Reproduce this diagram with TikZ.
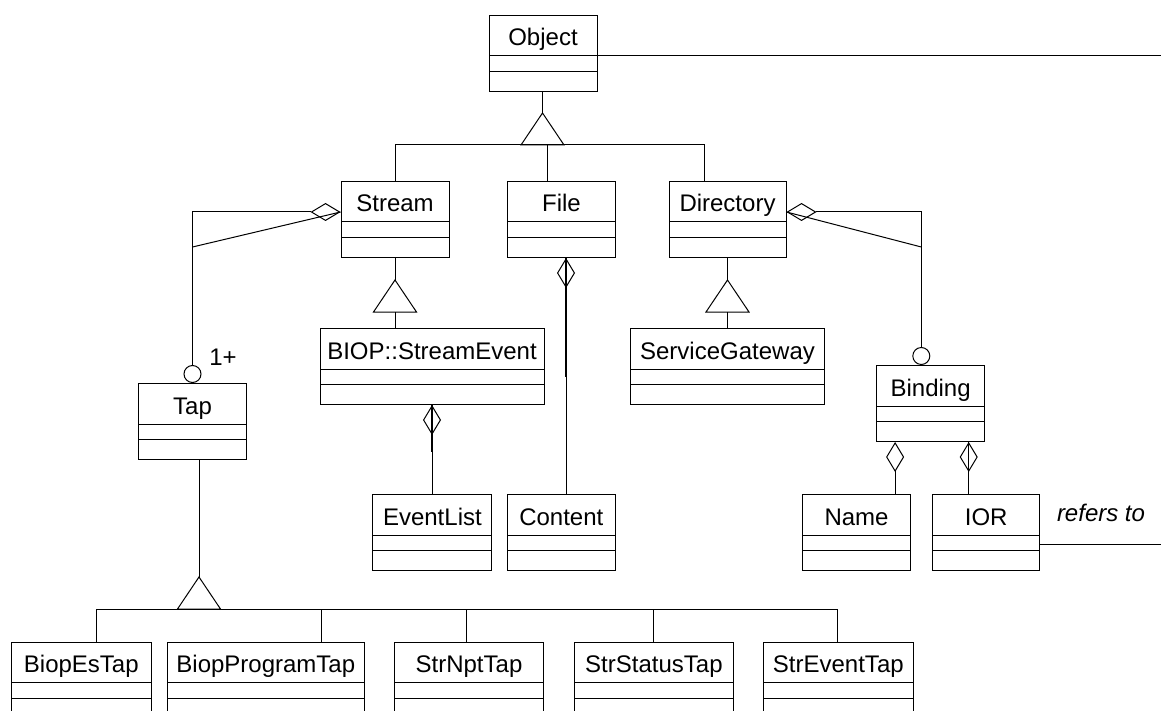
\documentclass[tikz,border=0pt]{standalone}
\usepackage{fontspec}
\setmainfont{Liberation Sans}
\usepackage{tikz}
\usetikzlibrary{shapes.multipart,arrows.meta,calc}

\newcommand{\umlcls}[1]{\rule[-4.75pt]{0pt}{19.75pt}#1\nodepart{two}\rule{0pt}{7.25pt}\nodepart{three}\rule{0pt}{9.5pt}}

\tikzset{
  umlclass/.style={draw, rectangle split, rectangle split parts=3, anchor=north, inner sep=0pt, font=\fontsize{12}{14.4}\selectfont},
  umllabel/.style={inner sep=0pt, font=\fontsize{12}{14.4}\selectfont},
  aggr/.style={{Diamond[open,length=15pt,width=9pt]}-},
  aggrcirc/.style={{Diamond[open,length=15pt,width=9pt]}-{Circle[open,length=9pt]}},
}

\begin{document}
\begin{tikzpicture}[x=0.5pt,y=0.5pt,yscale=-1,line width=0.5pt]
\useasboundingbox (0,0) rectangle (1161,711);

% Class Nodes
\node[umlclass, minimum width=54pt] (object) at (543,15) {\umlcls{Object}};
\node[umlclass, minimum width=54pt] (stream) at (395,181) {\umlcls{Stream}};
\node[umlclass, minimum width=54pt] (file) at (561.5,181) {\umlcls{File}};
\node[umlclass, minimum width=58.5pt] (directory) at (727.5,181) {\umlcls{Directory}};
\node[umlclass, minimum width=112pt] (biop) at (432,328) {\umlcls{BIOP::StreamEvent}};
\node[umlclass, minimum width=97pt] (gateway) at (727.5,328) {\umlcls{ServiceGateway}};
\node[umlclass, minimum width=54pt] (tap) at (192.5,383) {\umlcls{Tap}};
\node[umlclass, minimum width=54pt] (binding) at (930.6,365) {\umlcls{Binding}};
\node[umlclass, minimum width=59.5pt] (eventlist) at (432.4,494) {\umlcls{EventList}};
\node[umlclass, minimum width=54pt] (content) at (561.3,494) {\umlcls{Content}};
\node[umlclass, minimum width=53.75pt] (name) at (856.5,494) {\umlcls{Name}};
\node[umlclass, minimum width=53.5pt] (ior) at (986.2,494) {\umlcls{IOR}};
\node[umlclass, minimum width=70pt] (biopestap) at (81.3,641.5) {\umlcls{BiopEsTap}};
\node[umlclass, minimum width=98.5pt] (biopprogramtap) at (265.8,641.5) {\umlcls{BiopProgramTap}};
\node[umlclass, minimum width=74.5pt] (strnpttap) at (469,641.5) {\umlcls{StrNptTap}};
\node[umlclass, minimum width=79.7pt] (strstatustap) at (653.9,641.5) {\umlcls{StrStatusTap}};
\node[umlclass, minimum width=75.2pt] (streventtap) at (838.3,641.5) {\umlcls{StrEventTap}};

% Text Nodes
\node[umllabel] (tapmult) at (223,357) {1+};
\node[umllabel, font=\fontsize{12}{14.4}\selectfont\itshape] (refers) at (1101,513) {refers to};

% Object generalization
\coordinate (objapex) at ($(object.south)+(-0.5,21)$);
\coordinate (objbase) at ($(objapex)+(0,32)$);
\draw (objapex) -- ++(-21.5,32) -- ++(43,0) -- cycle;
\draw (objapex |- object.south) -- (objapex);
\foreach \n/\dx in {stream/0, file/-14.5, directory/-23.5}
  \draw ($(\n.north)+(\dx,0)$) |- (objbase);

% Object right connector
\coordinate (objend) at (1161,56);
\draw ($(object.north east)+(0,41)$) -- (objend);

% Stream generalization
\coordinate (strapex) at ($(stream.south)+(0,22)$);
\draw (strapex) -- ++(-21.5,32) -- ++(43,0) -- cycle;
\draw (stream.south) -- (strapex);
\draw ($(strapex)+(0,32)$) -- (strapex |- biop.north);

% Directory generalization
\coordinate (dirapex) at ($(directory.south)+(0,22)$);
\draw (dirapex) -- ++(-21.5,32) -- ++(43,0) -- cycle;
\draw (directory.south) -- (dirapex);
\draw ($(dirapex)+(0,32)$) -- (dirapex |- gateway.north);

% Stream aggregation of Tap
\coordinate (strw) at ($(stream.north west)+(0,31)$);
\draw[aggrcirc] (strw) -| (tap.north);
\draw (strw) -- (tap.north |- 0,247);

% Directory aggregation of Binding
\coordinate (dire) at ($(directory.north east)+(0,31)$);
\coordinate (bindtop) at ($(binding.north)+(-9.3,0)$);
\draw[aggrcirc] (dire) -| (bindtop);
\draw (dire) -- (bindtop |- 0,247);

% File -- Content
\coordinate (filebot) at ($(file.south)+(4.5,0)$);
\draw[aggr] (filebot) -- (filebot |- content.north);
\draw[line width=1pt] (filebot) -- ++(0,119);

% BIOP::StreamEvent -- EventList
\draw[aggr] (biop.south) -- (biop.south |- eventlist.north);
\draw[line width=1pt] (biop.south) -- ++(0,47);

% Binding -- Name, IOR
\coordinate (bindsw) at ($(binding.south west)+(19,0)$);
\coordinate (bindse) at ($(binding.south east)+(-16.4,0)$);
\draw[aggr] (bindsw) -- (bindsw |- name.north);
\draw[aggr] (bindse) -- (bindse |- ior.north);
\draw (bindse) -- (bindse |- ior.north);

% IOR refers to
\coordinate (refend) at (1161,544);
\draw ($(ior.north east)+(0,50)$) -- (refend);

% Tap generalization
\coordinate (tapapex) at ($(tap.south)+(6.5,117)$);
\coordinate (tapbase) at ($(tapapex)+(0,32)$);
\draw (tapapex) -- ++(-21.5,32) -- ++(43,0) -- cycle;
\draw (tapapex |- tap.south) -- (tapapex);
\foreach \n/\dx in {biopestap/15.5, biopprogramtap/55.7, strnpttap/-2.1, strstatustap/0, streventtap/-1.2}
  \draw ($(\n.north)+(\dx,0)$) |- (tapbase);
\end{tikzpicture}
\end{document}
